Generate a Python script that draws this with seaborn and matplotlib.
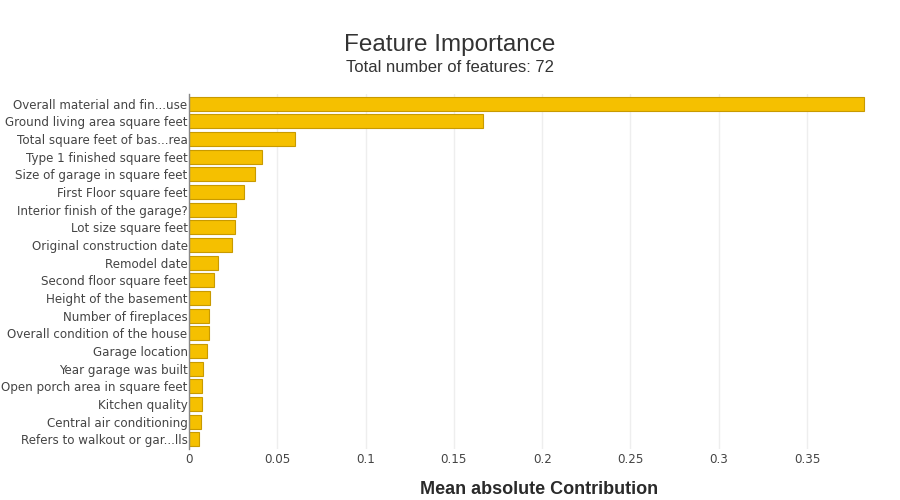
import matplotlib
matplotlib.use("Agg")
import matplotlib.pyplot as plt
import seaborn as sns
import pandas as pd

# feature names (top to bottom) and mean absolute contributions
features = [
    "Overall material and fin...use",
    "Ground living area square feet",
    "Total square feet of bas...rea",
    "Type 1 finished square feet",
    "Size of garage in square feet",
    "First Floor square feet",
    "Interior finish of the garage?",
    "Lot size square feet",
    "Original construction date",
    "Remodel date",
    "Second floor square feet",
    "Height of the basement",
    "Number of fireplaces",
    "Overall condition of the house",
    "Garage location",
    "Year garage was built",
    "Open porch area in square feet",
    "Kitchen quality",
    "Central air conditioning",
    "Refers to walkout or gar...lls",
]
importance = [
    0.382, 0.1665, 0.060, 0.0413, 0.0374, 0.0310, 0.0267, 0.0259, 0.0246, 0.0166,
    0.0142, 0.0121, 0.0112, 0.0112, 0.0101, 0.0080, 0.0074, 0.0071, 0.0068, 0.0058,
]
x_ticks = [0, 0.05, 0.1, 0.15, 0.2, 0.25, 0.3, 0.35]
x_tick_labels = ["0", "0.05", "0.1", "0.15", "0.2", "0.25", "0.3", "0.35"]

df = pd.DataFrame({"feature": features, "importance": importance})

sns.set_theme(style="white")
plt.rcParams["font.family"] = ["DejaVu Sans"]

fig = plt.figure(figsize=(9, 5), dpi=100)
ax = fig.add_axes([0.21, 0.102, 0.779, 0.71])

sns.barplot(data=df, x="importance", y="feature", orient="h", color="#f5c000",
            saturation=1, width=0.8, edgecolor="#c89a00", linewidth=0.8, ax=ax, zorder=3)

ax.set_xlim(0, 0.397)
ax.set_ylim(len(features) - 0.45, -0.55)
ax.set_xticks(x_ticks)
ax.set_xticklabels(x_tick_labels)
ax.grid(axis="x", color="#eeeeee", linewidth=1, zorder=0)
ax.tick_params(axis="y", length=0, labelsize=8.55, labelcolor="#444444", pad=1)
ax.tick_params(axis="x", length=0, labelsize=8.6, labelcolor="#444444", pad=3)

for side in ["top", "right", "bottom"]:
    ax.spines[side].set_visible(False)
ax.spines["left"].set_color("#888888")
ax.spines["left"].set_linewidth(1)
ax.spines["left"].set_zorder(4)

ax.set_ylabel("")
ax.set_xlabel("Mean absolute Contribution", fontsize=13, fontweight="heavy",
              color="#2a2a2a", family="Liberation Sans", va="center")
ax.xaxis.set_label_coords(0.5, -0.113)

fig.text(0.5, 0.898, "Feature Importance", ha="center", fontsize=17.5,
         color="#333333", family="Liberation Sans")
fig.text(0.5, 0.856, "Total number of features: 72", ha="center", fontsize=12,
         color="#333333", family="Liberation Sans")

fig.savefig("out.png", dpi=100)
